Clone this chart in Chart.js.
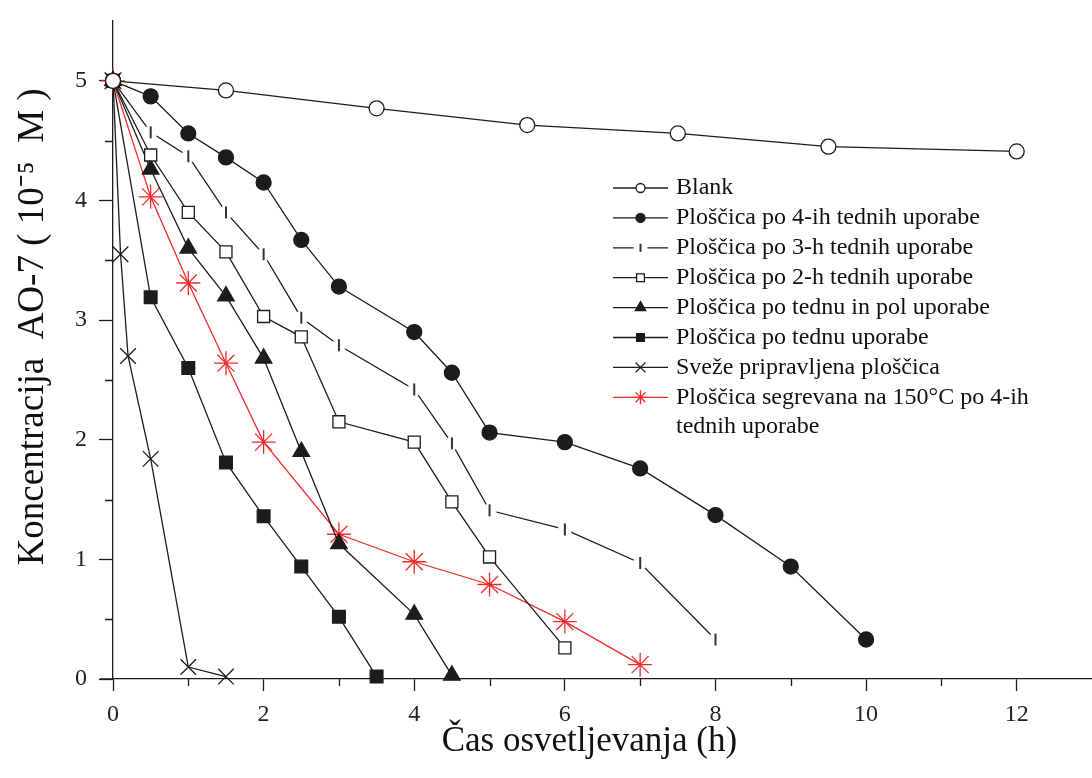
<!DOCTYPE html>
<html>
<head>
<meta charset="utf-8">
<title>AO-7</title>
<script src="https://cdn.jsdelivr.net/npm/chart.js@4/dist/chart.umd.min.js"></script>
<style>
    html, body { margin: 0; padding: 0; background: #fff; }
    #chart { display: block; }
</style>
</head>
<body>
<canvas id="chart" width="1092" height="778"></canvas>
<script>
// values (time in h, concentration in 10^-5 M)
const seriesLabels = [
    'Blank',
    'Ploščica po 4-ih tednih uporabe',
    'Ploščica po 3-h tednih uporabe',
    'Ploščica po 2-h tednih uporabe',
    'Ploščica po tednu in pol uporabe',
    'Ploščica po tednu uporabe',
    'Sveže pripravljena ploščica',
    ['Ploščica segrevana na 150°C po 4-ih', 'tednih uporabe']
];

const blankX = [0, 1.5, 3.5, 5.5, 7.5, 9.5, 12];
const blankY = [5, 4.92, 4.77, 4.63, 4.56, 4.45, 4.41];

const week4X = [0, 0.5, 1, 1.5, 2, 2.5, 3, 4, 4.5, 5, 6, 7, 8, 9, 10];
const week4Y = [5, 4.87, 4.56, 4.36, 4.15, 3.67, 3.28, 2.9, 2.56, 2.06, 1.98, 1.76, 1.37, 0.94, 0.33];

const week3X = [0, 0.5, 1, 1.5, 2, 2.5, 3, 4, 4.5, 5, 6, 7, 8];
const week3Y = [5, 4.57, 4.37, 3.9, 3.55, 3.02, 2.79, 2.42, 1.97, 1.41, 1.25, 0.97, 0.33];

const week2X = [0, 0.5, 1, 1.5, 2, 2.5, 3, 4, 4.5, 5, 6];
const week2Y = [5, 4.38, 3.9, 3.57, 3.03, 2.86, 2.15, 1.98, 1.48, 1.02, 0.26];

const week15X = [0, 0.5, 1, 1.5, 2, 2.5, 3, 4, 4.5];
const week15Y = [5, 4.26, 3.6, 3.2, 2.68, 1.9, 1.13, 0.54, 0.03];

const week1X = [0, 0.5, 1, 1.5, 2, 2.5, 3, 3.5];
const week1Y = [5, 3.19, 2.6, 1.81, 1.36, 0.94, 0.52, 0.02];

const freshX = [0, 0.1, 0.2, 0.5, 1, 1.5];
const freshY = [5, 3.55, 2.7, 1.84, 0.1, 0.02];

const heatedX = [0, 0.5, 1, 1.5, 2, 3, 4, 5, 6, 7];
const heatedY = [5, 4.03, 3.31, 2.64, 1.98, 1.21, 0.98, 0.79, 0.48, 0.12];

const xTicks = [0, 2, 4, 6, 8, 10, 12];
const xMinorTicks = [1, 3, 5, 7, 9, 11];
const yTicks = [0, 1, 2, 3, 4, 5];
const yMinorTicks = [0.5, 1.5, 2.5, 3.5, 4.5];

const xTitle = 'Čas osvetljevanja (h)';
const yTitle = 'Koncentracija  AO-7 ( 10⁻⁵  M )';

const FONT = "'Liberation Serif', 'Times New Roman', serif";
const INK = '#1c1c1c';
const RED = '#f42a2a';

function pts(xs, ys) {
    return xs.map((x, i) => ({ x: x, y: ys[i] }));
}

// short vertical bar with a white halo, so the line breaks around it
function barMarker(h) {
    const c = document.createElement('canvas');
    c.width = 16;
    c.height = 16;
    const g = c.getContext('2d');
    g.fillStyle = '#fff';
    g.beginPath();
    g.arc(8, 8, 7, 0, Math.PI * 2);
    g.fill();
    g.strokeStyle = INK;
    g.lineWidth = 1.8;
    g.beginPath();
    g.moveTo(8, 8 - h / 2);
    g.lineTo(8, 8 + h / 2);
    g.stroke();
    return c;
}
const barBig = barMarker(12);
const barSmall = barMarker(8);

const datasets = [
    { data: pts(blankX, blankY), pointStyle: 'circle', pointRadius: 7.5, pointBackgroundColor: '#fff', legendRadius: 4.5 },
    { data: pts(week4X, week4Y), pointStyle: 'circle', pointRadius: 7.5, pointBackgroundColor: INK, legendRadius: 4.5 },
    { data: pts(week3X, week3Y), pointStyle: barBig, legendStyle: barSmall, pointRadius: 7, pointBackgroundColor: INK, order: 10 },
    { data: pts(week2X, week2Y), pointStyle: 'rect', pointRadius: 8.5, pointBackgroundColor: '#fff', legendRadius: 5.5 },
    { data: pts(week15X, week15Y), pointStyle: 'triangle', pointRadius: 9.5, pointBackgroundColor: INK, legendRadius: 6 },
    { data: pts(week1X, week1Y), pointStyle: 'rect', pointRadius: 9, pointBackgroundColor: INK, legendRadius: 5.5 },
    { data: pts(freshX, freshY), pointStyle: 'crossRot', pointRadius: 11, pointBackgroundColor: INK, legendRadius: 7 },
    { data: pts(heatedX, heatedY), pointStyle: 'star', pointRadius: 12, pointBackgroundColor: RED, color: RED, legendRadius: 7 }
].map((d, i) => {
    const col = d.color || INK;
    const lbl = seriesLabels[i];
    return Object.assign({
        label: Array.isArray(lbl) ? lbl.join(' ') : lbl,
        borderColor: col,
        borderWidth: 1.3,
        pointBorderColor: col,
        pointBorderWidth: 1.3,
        pointHoverRadius: d.pointRadius,
        tension: 0,
        clip: false
    }, d);
});

// legend sits inside the plot, like the original
const insideLegend = {
    id: 'insideLegend',
    afterDraw(chart) {
        const ctx = chart.ctx;
        const x0 = 613, x1 = 668, tx = 676, top = 188, row = 29.9;
        ctx.save();
        ctx.font = '24px ' + FONT;
        ctx.textBaseline = 'middle';
        ctx.textAlign = 'left';
        let line = 0;
        chart.data.datasets.forEach((ds, i) => {
            const y = top + line * row;
            const col = ds.borderColor;
            ctx.strokeStyle = col;
            ctx.lineWidth = 1.3;
            ctx.beginPath();
            ctx.moveTo(x0, y);
            ctx.lineTo(x1, y);
            ctx.stroke();
            ctx.fillStyle = ds.pointBackgroundColor;
            ctx.strokeStyle = col;
            Chart.helpers.drawPoint(ctx, {
                pointStyle: ds.legendStyle || ds.pointStyle,
                radius: ds.legendRadius || 5,
                rotation: 0,
                borderWidth: 1.3
            }, (x0 + x1) / 2, y);
            ctx.fillStyle = '#111';
            const lbl = seriesLabels[i];
            const lines = Array.isArray(lbl) ? lbl : [lbl];
            lines.forEach((t, k) => ctx.fillText(t, tx, y + k * row));
            line += lines.length;
        });
        ctx.restore();
    }
};

// minor ticks and the little axis overhang at the origin
const axisExtras = {
    id: 'axisExtras',
    afterDraw(chart) {
        const { ctx, chartArea } = chart;
        const xs = chart.scales.x, ys = chart.scales.y;
        ctx.save();
        ctx.strokeStyle = INK;
        ctx.lineWidth = 1.3;
        ctx.beginPath();
        xMinorTicks.forEach(v => {
            const px = Math.round(xs.getPixelForValue(v)) + 0.5;
            ctx.moveTo(px, chartArea.bottom);
            ctx.lineTo(px, chartArea.bottom + 7);
        });
        yMinorTicks.forEach(v => {
            const py = Math.round(ys.getPixelForValue(v)) + 0.5;
            ctx.moveTo(chartArea.left, py);
            ctx.lineTo(chartArea.left - 8, py);
        });
        ctx.moveTo(chartArea.left - 13, chartArea.bottom);
        ctx.lineTo(chartArea.left, chartArea.bottom);
        ctx.stroke();
        ctx.restore();
    }
};

new Chart(document.getElementById('chart').getContext('2d'), {
    type: 'line',
    data: { datasets: datasets },
    plugins: [axisExtras, insideLegend],
    options: {
        responsive: false,
        animation: false,
        devicePixelRatio: 1,
        events: [],
        layout: { autoPadding: false, padding: { top: 21, right: 0, left: 0, bottom: 0 } },
        plugins: {
            legend: { display: false },
            tooltip: { enabled: false }
        },
        scales: {
            x: {
                type: 'linear',
                min: 0,
                max: 13,
                afterFit: s => { s.height = 99; s.paddingLeft = 0; s.paddingRight = 0; },
                afterBuildTicks: s => { s.ticks = xTicks.map(v => ({ value: v })); },
                border: { display: true, color: INK, width: 1.3 },
                grid: { drawOnChartArea: false, drawTicks: true, tickLength: 12, tickColor: INK, tickWidth: 1.3 },
                ticks: {
                    color: '#222',
                    padding: 12,
                    maxRotation: 0,
                    font: { family: FONT, size: 24, lineHeight: 1 }
                },
                title: {
                    display: true,
                    text: xTitle + '   ',
                    color: '#111',
                    font: { family: FONT, size: 35, lineHeight: 1 },
                    padding: { top: 0, bottom: 19 }
                }
            },
            y: {
                type: 'linear',
                min: 0,
                max: 5.5,
                afterFit: s => { s.width = 113; s.paddingTop = 0; s.paddingBottom = 0; },
                afterBuildTicks: s => { s.ticks = yTicks.map(v => ({ value: v })); },
                border: { display: true, color: INK, width: 1.3 },
                grid: { drawOnChartArea: false, drawTicks: true, tickLength: 14, tickColor: INK, tickWidth: 1.3 },
                ticks: {
                    color: '#222',
                    padding: 12,
                    font: { family: FONT, size: 24, lineHeight: 1 }
                },
                title: {
                    display: true,
                    text: '     ' + yTitle,
                    color: '#111',
                    font: { family: FONT, size: 37, lineHeight: 1 },
                    padding: { top: 15, bottom: 0 }
                }
            }
        }
    }
});
</script>
</body>
</html>
